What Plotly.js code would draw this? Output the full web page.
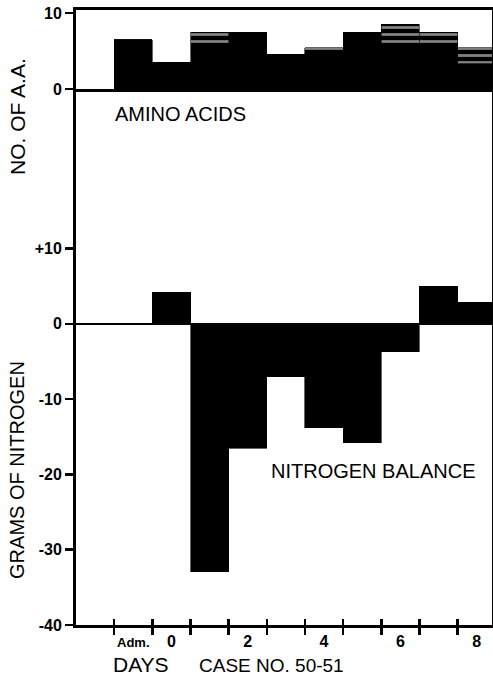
<!DOCTYPE html>
<html>
<head>
<meta charset="utf-8">
<script src="https://cdn.plot.ly/plotly-3.0.1.min.js"></script>
<style>html,body{margin:0;padding:0;background:#fff;}</style>
</head>
<body>
<div id="chart" style="width:493px;height:675px;"></div>
<script>
// ---- data ----
const days = [-1, 0, 1, 2, 3, 4, 5, 6, 7, 8];
const aminoSolid = [6.5, 3.5, 5.5, 7.5, 4.6, 4.6, 7.5, 5.6, 5.6, 3.3];
const aminoTrace = [0, 0, 2.0, 0, 0, 0.8, 0, 2.9, 1.9, 2.1];

const nDays = [0, 1, 2, 3, 4, 5, 6, 7, 8];
const nitrogenBalance = [4.2, -32.9, -16.5, -7.0, -13.8, -15.8, -3.7, 5.0, 2.9];

const dayTickVals = [-1, 0, 2, 4, 6, 8];
const dayTickText = ['<span style="font-size:13px">Adm.</span>', '0', '2', '4', '6', '8'];
const dayBoundaries = [-1.5, -0.5, 0.5, 1.5, 2.5, 3.5, 4.5, 5.5, 6.5, 7.5];

const aaTickVals = [0, 10];
const aaTickText = ['0', '10'];
const nTickVals = [10, 0, -10, -20, -30, -40];
const nTickText = ['+10', '0', '-10', '-20', '-30', '-40'];

// ---- chart ----
const FONT = 'Liberation Sans, Arial, sans-serif';
const XR = [-2.5, 8.4];
const split = 0.8715;

const traces = [
  {type: 'bar', x: days, y: aminoSolid, xaxis: 'x', yaxis: 'y', width: 1,
   marker: {color: 'black', line: {color: 'black', width: 0.6}}, hoverinfo: 'skip'},
  {type: 'bar', x: days, y: aminoTrace, xaxis: 'x', yaxis: 'y', width: 1,
   marker: {color: 'black', line: {color: 'black', width: 0.6},
            pattern: {shape: '-', fillmode: 'overlay', fgcolor: 'white', size: 7, solidity: 0.4}},
   hoverinfo: 'skip'},
  {type: 'bar', x: nDays, y: nitrogenBalance, xaxis: 'x2', yaxis: 'y2', width: 1,
   marker: {color: 'black', line: {color: 'black', width: 0.6}}, hoverinfo: 'skip'},
  // empty helper traces so the overlaying tick axes are drawn
  {type: 'scatter', mode: 'markers', x: [], y: [], xaxis: 'x3', yaxis: 'y2', hoverinfo: 'skip'},
  {type: 'scatter', mode: 'markers', x: [], y: [], xaxis: 'x4', yaxis: 'y2', hoverinfo: 'skip'}
];

const tickFont = {family: FONT, size: 16, color: 'black', weight: 'bold'};
const ann = (text, x, y, size, extra) => Object.assign({
  text: text, xref: 'paper', yref: 'paper', x: x, y: y, xanchor: 'center', yanchor: 'middle',
  showarrow: false, font: {family: FONT, size: size, color: 'black'}
}, extra || {});

const layout = {
  width: 493, height: 675,
  margin: {l: 76, r: 1, t: 10, b: 50},
  paper_bgcolor: 'white', plot_bgcolor: 'white',
  showlegend: false,
  barmode: 'stack', bargap: 0,
  font: {family: FONT, color: 'black'},
  xaxis: {domain: [0, 1], anchor: 'y', range: XR, showline: true, linewidth: 3, linecolor: 'black',
          mirror: true, ticks: '', showticklabels: false, showgrid: false, zeroline: false},
  yaxis: {domain: [split, 1], anchor: 'x', range: [0, 10.4], tickmode: 'array',
          tickvals: aaTickVals, ticktext: aaTickText, ticks: 'outside', ticklen: 8, tickwidth: 2.5,
          tickcolor: 'black', showline: true, linewidth: 3, linecolor: 'black', mirror: true,
          showgrid: false, zeroline: false, tickfont: tickFont},
  xaxis2: {domain: [0, 1], anchor: 'y2', range: XR, showline: true, linewidth: 3, linecolor: 'black',
           tickmode: 'array', tickvals: dayBoundaries, ticks: 'outside', ticklen: 7, tickwidth: 2.5,
           tickcolor: 'black', showticklabels: false, showgrid: false, zeroline: false},
  xaxis3: {overlaying: 'x2', anchor: 'y2', range: XR, showline: false, tickmode: 'array',
           tickvals: dayBoundaries, ticks: 'inside', ticklen: 6, tickwidth: 2.5, tickcolor: 'black',
           showticklabels: false, showgrid: false, zeroline: false},
  xaxis4: {overlaying: 'x2', anchor: 'y2', range: XR, showline: false, tickmode: 'array',
           tickvals: dayTickVals, ticktext: dayTickText, ticks: 'outside', ticklen: 2,
           tickcolor: 'rgba(0,0,0,0)', showgrid: false, zeroline: false, tickfont: tickFont},
  yaxis2: {domain: [0, split], anchor: 'x2', range: [-40, 31.2], tickmode: 'array',
           tickvals: nTickVals, ticktext: nTickText, ticks: 'outside', ticklen: 8, tickwidth: 2.5,
           tickcolor: 'black', showline: true, linewidth: 3, linecolor: 'black', mirror: true,
           showgrid: false, zeroline: true, zerolinewidth: 2.5, zerolinecolor: 'black',
           tickfont: tickFont},
  annotations: [
    ann('NO. OF A.A.', -0.142, 0.8276, 21, {textangle: -90}),
    ann('GRAMS OF NITROGEN', -0.142, 0.252, 20, {textangle: -90}),
    ann('AMINO ACIDS', 0.25, 0.831, 20),
    ann('NITROGEN BALANCE', 0.714, 0.2504, 20),
    ann('DAYS', 0.156, -0.064, 21),
    ann('CASE NO. 50-51', 0.291, -0.066, 19, {xanchor: 'left'})
  ]
};

Plotly.newPlot('chart', traces, layout, {staticPlot: true, displayModeBar: false});
</script>
</body>
</html>
